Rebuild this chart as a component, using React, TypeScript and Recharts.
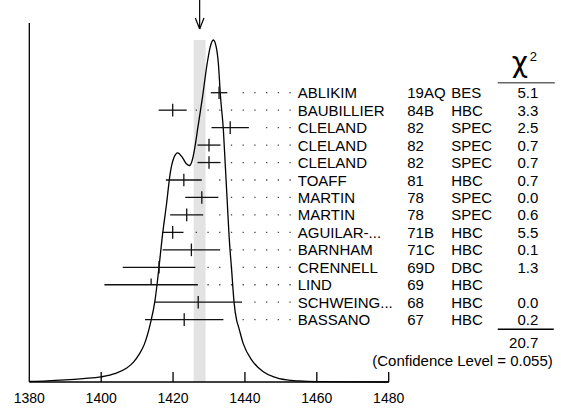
import React from 'react'
import { ComposedChart, Line, Scatter, ErrorBar, XAxis, YAxis, ReferenceLine, ReferenceArea } from 'recharts'

// ideogram curve (height in % of the peak)
const curveX = [1380, 1385, 1390, 1395, 1400, 1404, 1407, 1409, 1410.5, 1412, 1413.6, 1415, 1416, 1417, 1418.2, 1419.2, 1420.2, 1421.3, 1422.5, 1423.7, 1424.6, 1425.5, 1426.1, 1426.8, 1428.2, 1429.5, 1430.3, 1431.2, 1432.0, 1432.6, 1433.2, 1434.0, 1434.5, 1435.1, 1435.6, 1436.3, 1437.0, 1437.7, 1438.2, 1439.5, 1441.9, 1445.1, 1448, 1451.6, 1455, 1460, 1470, 1480]
const curveH = [0.15, 0.3, 0.6, 1.0, 1.5, 2.5, 4.0, 5.8, 8.0, 11.0, 16.7, 24.0, 32.7, 42.5, 52.2, 61.0, 65.5, 67.0, 65.8, 63.8, 63.3, 65.5, 68.8, 73.7, 83.4, 93.2, 97.8, 100, 98, 93.2, 83.4, 73.7, 64, 52.2, 42.5, 32.7, 23.0, 18.0, 16.2, 11.3, 6.4, 3.0, 1.5, 0.6, 0.3, 0.1, 0.03, 0]

// measurements
const names = ['ABLIKIM', 'BAUBILLIER', 'CLELAND', 'CLELAND', 'CLELAND', 'TOAFF', 'MARTIN', 'MARTIN', 'AGUILAR-...', 'BARNHAM', 'CRENNELL', 'LIND', 'SCHWEING...', 'BASSANO']
const years = ['19AQ', '84B', '82', '82', '82', '81', '78', '78', '71B', '71C', '69D', '69', '68', '67']
const experiments = ['BES', 'HBC', 'SPEC', 'SPEC', 'SPEC', 'HBC', 'SPEC', 'SPEC', 'HBC', 'HBC', 'DBC', 'HBC', 'HBC', 'HBC']
const masses = [1432.8, 1419.9, 1435.9, 1430.0, 1430.0, 1423.0, 1428.0, 1423.8, 1419.9, 1425.1, 1416.1, 1413.9, 1427.0, 1423.1]
const errors = [2.3, 3.9, 5.2, 3.2, 3.2, 5.0, 4.6, 4.6, 3.0, 8.0, 10.1, 13.0, 12.2, 10.9]
const chi2 = ['5.1', '3.3', '2.5', '0.7', '0.7', '0.7', '0.0', '0.6', '5.5', '0.1', '1.3', '', '0.0', '0.2']

const totalChi2 = '20.7'
const confLevel = '0.055'
const fitMass = 1427.4
const fitError = 1.65

const xTicks = [1380, 1400, 1420, 1440, 1460, 1480]

// layout (x in MeV, y in row units)
const FONT = '"Liberation Sans", Arial, Helvetica, sans-serif'
const ROW_DOMAIN = [-5.31, 16.57]
const NAME_X = 1454.7
const DOT_START = 1426.3
const DOT_STEP = 3.26
const DOT_CLEAR = 2.25
const DOT_LAST = DOT_START + 8 * DOT_STEP

const curveData = curveX.map((x, i) => ({ x, h: curveH[i] }))

const rows = names.map((name, i) => ({
  x: masses[i],
  y: i,
  err: errors[i],
  name,
  year: years[i],
  exp: experiments[i],
  chi2: chi2[i],
  used: chi2[i] !== '',
}))

const tableRows = rows.map((r) => ({ ...r, x: NAME_X }))

const leaderStart = (r: any) => {
  const k = Math.max(0, Math.ceil((r.x + r.err + DOT_CLEAR - DOT_START) / DOT_STEP))
  return DOT_START + k * DOT_STEP
}

const MeasTick = ({ cx, cy, payload }: any) => (
  <line x1={cx} x2={cx} y1={cy - 6.3} y2={payload.used ? cy + 6.3 : cy} stroke="#111" strokeWidth={1.3} />
)

const TableRow = ({ cx, cy, payload }: any) => {
  const last = payload.y === rows.length - 1
  return (
    <g fontFamily={FONT} fontSize={15} fill="#000">
      {payload.y === 0 && (
        <g>
          <text x={cx + 222} y={cy - 20.5} fontSize={28} textAnchor="middle" fontFamily='"DejaVu Sans", sans-serif'>χ</text>
          <text x={cx + 232} y={cy - 31.5} fontSize={13}>2</text>
          <line x1={cx + 200} x2={cx + 257} y1={cy - 10} y2={cy - 10} stroke="#666" strokeWidth={1.5} />
        </g>
      )}
      <text x={cx} y={cy + 5.5}>{payload.name}</text>
      <text x={cx + 109.5} y={cy + 5.5}>{payload.year}</text>
      <text x={cx + 153.5} y={cy + 5.5}>{payload.exp}</text>
      <text x={cx + 240.5} y={cy + 5.5} textAnchor="end">{payload.chi2}</text>
      {last && (
        <g>
          <line x1={cx + 200} x2={cx + 256} y1={cy + 9.6} y2={cy + 9.6} stroke="#000" strokeWidth={1.3} />
          <text x={cx + 240.5} y={cy + 28.6} textAnchor="end">{totalChi2}</text>
          <text x={cx + 255} y={cy + 46} textAnchor="end">{`(Confidence Level = ${confLevel})`}</text>
        </g>
      )}
    </g>
  )
}

const AxisTick = ({ x, y, payload }: any) => (
  <g>
    {payload.value !== 1380 && <line x1={x} x2={x} y1={y} y2={y - 10} stroke="#000" strokeWidth={1.3} />}
    <text x={x} y={y + 21} textAnchor="middle" fontFamily={FONT} fontSize={14} fill="#000">
      {payload.value}
    </text>
  </g>
)

export default function App() {
  return (
    <div style={{ position: 'absolute', left: 0, top: 0, background: '#fff' }}>
      <ComposedChart width={561} height={408} margin={{ top: 0, right: 172.3, bottom: 0, left: 29.3 }}>
        <XAxis
          type="number"
          dataKey="x"
          domain={[1380, 1480]}
          ticks={xTicks}
          interval={0}
          tickSize={0}
          tickMargin={0}
          tickLine={false}
          axisLine={{ stroke: '#000', strokeWidth: 1.3 }}
          height={26}
          tick={<AxisTick />}
        />
        <YAxis yAxisId="curve" type="number" domain={[0, 111.7]} hide />
        <YAxis yAxisId="rows" type="number" dataKey="y" domain={ROW_DOMAIN} reversed hide />

        <ReferenceArea
          yAxisId="rows"
          x1={fitMass - fitError}
          x2={fitMass + fitError}
          y1={-3.02}
          y2={ROW_DOMAIN[1]}
          fill="#e3e3e3"
          fillOpacity={1}
          stroke="none"
        />

        {/* vertical axis line */}
        <ReferenceLine yAxisId="rows" segment={[{ x: 1380, y: -3.99 }, { x: 1380, y: ROW_DOMAIN[1] }]} stroke="#000" strokeWidth={1.3} />

        {/* arrow marking the fit value */}
        <ReferenceLine yAxisId="rows" segment={[{ x: fitMass, y: ROW_DOMAIN[0] }, { x: fitMass, y: -3.65 }]} stroke="#000" strokeWidth={1.2} />
        <ReferenceLine yAxisId="rows" segment={[{ x: fitMass - 1.2, y: -4.28 }, { x: fitMass, y: -3.65 }]} stroke="#000" strokeWidth={1.2} />
        <ReferenceLine yAxisId="rows" segment={[{ x: fitMass + 1.2, y: -4.28 }, { x: fitMass, y: -3.65 }]} stroke="#000" strokeWidth={1.2} />

        {/* dotted leaders */}
        {rows.map((r) => (
          <ReferenceLine
            key={`lead-${r.y}`}
            yAxisId="rows"
            segment={[{ x: leaderStart(r), y: r.y }, { x: DOT_LAST + 0.4, y: r.y }]}
            stroke="#444"
            strokeWidth={1.3}
            strokeDasharray="1.3 10.42"
          />
        ))}

        <Line
          yAxisId="curve"
          data={curveData}
          dataKey="h"
          type="monotone"
          dot={false}
          stroke="#000"
          strokeWidth={1.3}
          isAnimationActive={false}
        />

        <Scatter yAxisId="rows" data={rows} shape={(p: any) => <MeasTick {...p} />} isAnimationActive={false}>
          <ErrorBar dataKey="err" direction="x" width={0} stroke="#111" strokeWidth={1.3} />
        </Scatter>

        <Scatter yAxisId="rows" data={tableRows} shape={(p: any) => <TableRow {...p} />} isAnimationActive={false} />
      </ComposedChart>
    </div>
  )
}
